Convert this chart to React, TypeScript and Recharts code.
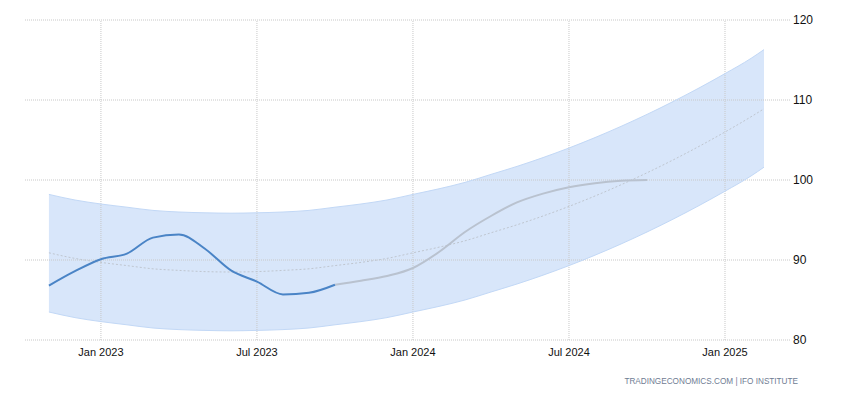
import React from "react";
import { ComposedChart, Area, Line, XAxis, YAxis, ReferenceLine } from "recharts";

// month index: 0 = Jan 2023
const months = [-2, -1, 0, 1, 2, 3, 4, 5, 6, 7, 8, 9, 10, 11, 12, 13, 14, 15, 16, 17, 18, 19, 20, 21, 22, 23, 24, 25, 25.5];
// actual: months -2 .. 9
const actual = [86.8, 88.6, 90.1, 90.8, 92.8, 93.2, 91.4, 88.7, 87.3, 85.7, 85.9, 86.9];
// forecast: months 9 .. 21
const forecastStartMonth = 9;
const forecast = [86.9, 87.4, 88.0, 89.0, 91.0, 93.5, 95.5, 97.2, 98.3, 99.1, 99.6, 99.9, 100.0];
const trend = [90.9, 90.2, 89.7, 89.3, 88.9, 88.7, 88.55, 88.5, 88.55, 88.7, 88.9, 89.3, 89.7, 90.2, 90.9, 91.6, 92.4, 93.4, 94.4, 95.5, 96.7, 98.0, 99.4, 100.9, 102.5, 104.2, 106.0, 107.9, 108.9];
const bandHigh = [98.2, 97.5, 97.0, 96.6, 96.2, 96.0, 95.9, 95.85, 95.9, 96.0, 96.2, 96.6, 97.0, 97.5, 98.2, 98.9, 99.7, 100.7, 101.7, 102.8, 104.0, 105.3, 106.7, 108.2, 109.8, 111.5, 113.3, 115.2, 116.3];
const bandLow = [83.5, 82.8, 82.3, 81.9, 81.5, 81.3, 81.2, 81.15, 81.2, 81.3, 81.5, 81.9, 82.3, 82.8, 83.5, 84.2, 85.0, 86.0, 87.0, 88.1, 89.3, 90.6, 92.0, 93.5, 95.1, 96.8, 98.6, 100.5, 101.6];
const xTicks = [0, 6, 12, 18, 24];
const xTickLabels = ["Jan 2023", "Jul 2023", "Jan 2024", "Jul 2024", "Jan 2025"];
const yTicks = [80, 90, 100, 110, 120];
const xDomain = [-2.92, 26.5];

const actualStartMonth = months[0];

const data = months.map((m, i) => {
  const ai = m - actualStartMonth;
  const fi = m - forecastStartMonth;
  return {
    m,
    actual: Number.isInteger(ai) && ai >= 0 && ai < actual.length ? actual[ai] : null,
    forecast: Number.isInteger(fi) && fi >= 0 && fi < forecast.length ? forecast[fi] : null,
    trend: trend[i],
    hi: bandHigh[i],
    lo: bandLow[i],
    band: [bandLow[i], bandHigh[i]],
  };
});

const font = "'Liberation Sans', Arial, sans-serif";
const gridColor = "#c8c8c8";

export default function App() {
  return (
    <div style={{ position: "absolute", left: 0, top: 0, width: 850, height: 400, background: "#fff" }}>
      <ComposedChart
        width={850}
        height={400}
        data={data}
        margin={{ top: 20, right: 0, left: 25, bottom: 0 }}
        accessibilityLayer={false}
      >
        {yTicks.map((t) => (
          <ReferenceLine key={"y" + t} y={t} stroke={gridColor} strokeDasharray="1 1" ifOverflow="visible" />
        ))}
        {xTicks.map((t) => (
          <ReferenceLine key={"x" + t} x={t} stroke={gridColor} strokeDasharray="1 1" ifOverflow="visible" />
        ))}
        <XAxis
          dataKey="m"
          type="number"
          domain={xDomain}
          allowDataOverflow
          ticks={xTicks}
          tickFormatter={(v) => xTickLabels[xTicks.indexOf(v)] ?? ""}
          axisLine={false}
          tickLine={false}
          height={60}
          tick={{ fill: "#111", fontSize: 11, fontFamily: font }}
        />
        <YAxis
          orientation="right"
          domain={[80, 120]}
          ticks={yTicks}
          axisLine={false}
          tickLine={false}
          tickSize={0}
          tickMargin={3}
          width={60}
          tick={{ fill: "#111", fontSize: 12, fontFamily: font, textAnchor: "start" }}
        />
        <Area
          dataKey="band"
          type="monotone"
          fill="#d8e6fa"
          fillOpacity={1}
          stroke="none"
          isAnimationActive={false}
        />
        <Line dataKey="hi" type="monotone" stroke="#c2d8f6" strokeWidth={1} dot={false} isAnimationActive={false} />
        <Line dataKey="lo" type="monotone" stroke="#c2d8f6" strokeWidth={1} dot={false} isAnimationActive={false} />
        <Line
          dataKey="trend"
          type="monotone"
          stroke="#bfc6d0"
          strokeWidth={1}
          strokeDasharray="2 2"
          dot={false}
          isAnimationActive={false}
        />
        <Line
          dataKey="forecast"
          type="monotone"
          stroke="#b9c2cf"
          strokeWidth={2}
          dot={false}
          isAnimationActive={false}
        />
        <Line
          dataKey="actual"
          type="monotone"
          stroke="#4a84c6"
          strokeWidth={2}
          dot={false}
          isAnimationActive={false}
        />
      </ComposedChart>
      <div
        style={{
          position: "absolute",
          right: 52,
          top: 377,
          fontSize: 8.2,
          fontFamily: font,
          color: "#6f7c93",
          whiteSpace: "nowrap",
        }}
      >
        TRADINGECONOMICS.COM | IFO INSTITUTE
      </div>
    </div>
  );
}
